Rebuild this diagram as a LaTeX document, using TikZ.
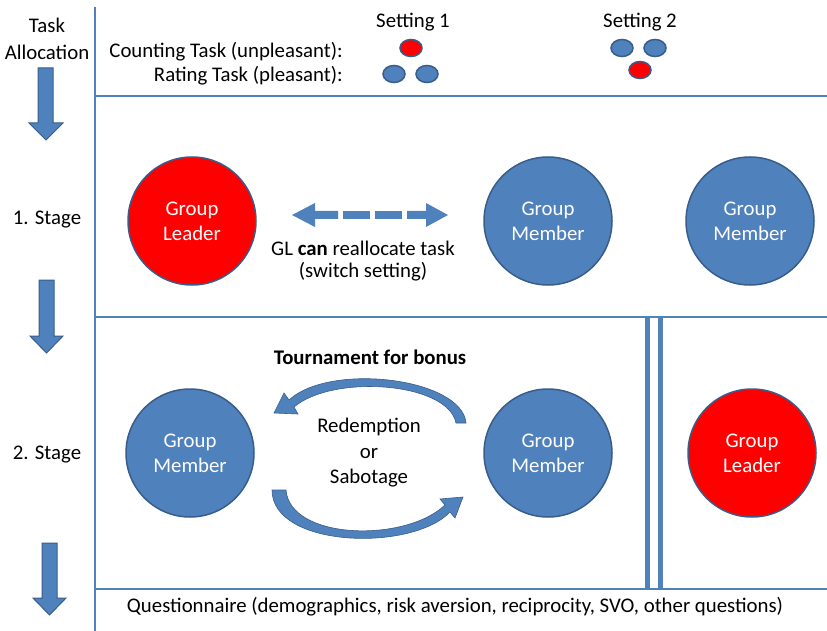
\documentclass[tikz,border=0pt]{standalone}
\usepackage{fontspec}
\setmainfont{Carlito}
\usetikzlibrary{shapes.geometric}
\definecolor{ofblue}{HTML}{4F81BD}
\definecolor{ofdark}{HTML}{385D8A}
\definecolor{ofred}{HTML}{FF0000}
\begin{document}
\begin{tikzpicture}[x=1pt,y=-1pt,
  every node/.style={font=\fontsize{20.8}{24}\selectfont, inner sep=0pt},
  lbl/.style={align=center},
  gm/.style={circle, minimum size=128pt, fill=ofblue, draw=ofdark, line width=1.5pt, text=white, align=center, font=\fontsize{20.8}{25}\selectfont},
  gl/.style={gm, fill=ofred},
  sm/.style={ellipse, minimum width=22pt, minimum height=17pt, fill=ofblue, draw=ofdark, line width=1.5pt},
  smr/.style={sm, fill=ofred},
  sep/.style={draw=ofblue, line width=1.3pt},
  blockarrow/.style={fill=ofblue, draw=ofdark, line width=1pt},
  flatarrow/.style={fill=ofblue},
  curvarrow/.style={fill=ofblue, draw=ofdark, line width=0.6pt},
]
\useasboundingbox (0,0) rectangle (827,631);

% separators
\draw[sep] (95,7) -- (95,631);
\draw[sep] (95,96) -- (827,96);
\draw[sep] (95,317) -- (827,317);
\draw[sep] (95,589) -- (827,589);
\draw[ofblue, line width=5pt] (647.5,317) -- (647.5,589);
\draw[ofblue, line width=5pt] (660,317) -- (660,589);

% left column
\node[lbl] (task) at (47,25) {Task};
\node[lbl] (alloc) at (47,52) {Allocation};
\node[lbl] (st1) at (47,220) {1. Stage};
\node[lbl] (st2) at (47,455) {2. Stage};
\draw[blockarrow] (38,68) -- (53,68) -- (53,123) -- (63,123) -- (46,140) -- (29,123) -- (38,123) -- cycle;
\draw[blockarrow] (39,280) -- (54,280) -- (54,336) -- (63,336) -- (46.5,353) -- (30,336) -- (39,336) -- cycle;
\draw[blockarrow] (42,543) -- (57,543) -- (57,598) -- (66,598) -- (49.5,615) -- (33,598) -- (42,598) -- cycle;

% task allocation row
\node[anchor=east] (count) at (343,52) {Counting Task (unpleasant):};
\node[anchor=east] (rate) at (343,76) {Rating Task (pleasant):};
\node (set1) at (413,22) {Setting 1};
\node (set2) at (640,22) {Setting 2};
\node[smr] (s1a) at (411,48) {};
\node[sm] (s1b) at (394,74) {};
\node[sm] (s1c) at (427,74) {};
\node[sm] (s2a) at (622,48) {};
\node[sm] (s2b) at (655,48) {};
\node[smr] (s2c) at (640,70) {};

% stage 1
\node[gl] (l1) at (192,221) {Group\\Leader};
\node[gm] (m1a) at (548,221) {Group\\Member};
\node[gm] (m1b) at (750,221) {Group\\Member};
\fill[flatarrow] (292,215) -- (315,203) -- (315,211) -- (338,211) -- (338,219) -- (315,219) -- (315,227) -- cycle;
\fill[flatarrow] (343,211) rectangle (370,219);
\fill[flatarrow] (375,211) rectangle (402,219);
\fill[flatarrow] (448,215) -- (426,203) -- (426,211) -- (407,211) -- (407,219) -- (426,219) -- (426,227) -- cycle;
\node (gl1) at (363,248) {GL \textbf{can} reallocate task};
\node (gl2) at (363,272) {(switch setting)};

% stage 2
\node[gm] (m2a) at (190,453) {Group\\Member};
\node[gm] (m2b) at (548,453) {Group\\Member};
\node[gl] (l2) at (752,453) {Group\\Leader};
\node (tour) at (370,357) {\textbf{Tournament for bonus}};
\node[lbl, font=\fontsize{20.8}{25.5}\selectfont] (rs) at (369,453) {Redemption\\or\\Sabotage};
\draw[curvarrow] (466,423) .. controls (462,378) and (330,362) .. (289,400)
  -- (284,393) -- (274,413) -- (298,414) -- (294,407)
  .. controls (333,374) and (448,382) .. (456,423) -- cycle;
\draw[curvarrow] (272,490) .. controls (272,548) and (412,552) .. (450,512)
  -- (455,518) -- (463,497) -- (440,499) -- (445,505)
  .. controls (405,543) and (290,540) .. (286,490) -- cycle;

% questionnaire
\node (q) at (455,607) {Questionnaire (demographics, risk aversion, reciprocity, SVO, other questions)};
\end{tikzpicture}
\end{document}
